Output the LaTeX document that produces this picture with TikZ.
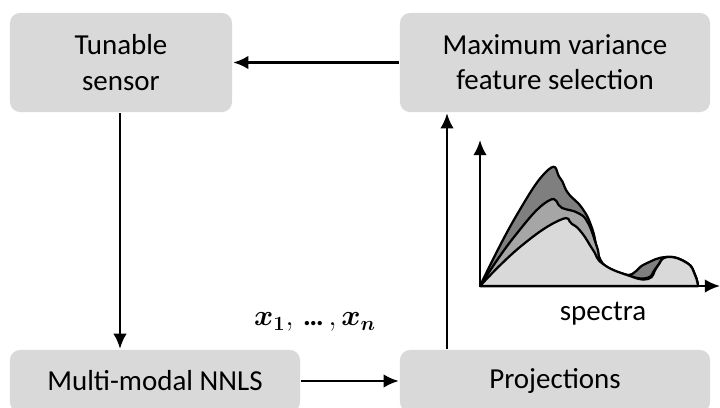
\documentclass[tikz,border=0pt]{standalone}
\usepackage{fontspec}
\setmainfont{Carlito}
\usepackage{amsmath,bm}
\usetikzlibrary{arrows.meta}
\definecolor{boxgray}{HTML}{D9D9D9}
\definecolor{midgray}{HTML}{A6A6A6}
\definecolor{darkgray}{HTML}{7F7F7F}
\newcommand{\labfont}{\fontsize{20.6}{25}\selectfont}
\tikzset{
  block/.style={fill=boxgray, rounded corners=0.25cm, align=center, font=\labfont, inner sep=0pt},
  curve/.style={line width=1.6pt, line join=round}
}
\begin{document}
\begin{tikzpicture}[x=0.025cm,y=-0.025cm,>={Latex[length=0.38cm,width=0.34cm]},line width=1.7pt]
\useasboundingbox (0,0) rectangle (720,407);
\node[block, minimum width=5.55cm, minimum height=2.475cm] (sensor) at (121,62.5) {Tunable\\sensor};
\node[block, minimum width=7.75cm, minimum height=2.475cm] (maxvar) at (555,62.5) {Maximum variance\\feature selection};
\node[block, minimum width=7.25cm, minimum height=1.55cm] (nnls) at (155,381) {Multi-modal NNLS};
\node[block, minimum width=7.75cm, minimum height=1.55cm] (proj) at (555,381) {Projections};
\node[font=\labfont] (xs) at (315,322) {$\bm{x_1},\,\text{\bfseries …}\,,\bm{x_n}$};
\node[font=\labfont] (spec) at (603,314) {spectra};

\draw [->] (maxvar) -- (sensor);
\draw [->] (sensor.south -| 120,0) -- (nnls.north -| 120,0);
\draw [->] (nnls) -- (proj);
\coordinate (up) at (447,0);
\draw [->] (proj.north -| up) -- (maxvar.south -| up);

% spectra plot
\filldraw [curve, fill=darkgray] plot [smooth, tension=0.8] coordinates {(480,286) (515,218) (548,170) (560,178) (568,193) (582,208) (592,228) (603,264) (627,275) (645,264) (667,257) (687,263) (695,275) (698,286)} -- cycle;
\filldraw [curve, fill=midgray] plot [smooth, tension=0.8] coordinates {(480,286) (514,237) (548,201) (562,208) (578,213) (588,223) (597,247) (603,264) (627,275) (647,278) (656,268) (667,257) (687,263) (695,275) (698,286)} -- cycle;
\filldraw [curve, fill=boxgray] plot [smooth, tension=0.8] coordinates {(480,286) (520,247) (560,220) (572,224) (582,233) (593,250) (603,264) (627,275) (648,279) (657,267) (667,257) (687,263) (695,275) (698,286)} -- cycle;
\coordinate (o) at (480,286);
\draw [->] (o) -- (480,140);
\draw [->] (o) -- (720,286);

\end{tikzpicture}
\end{document}
